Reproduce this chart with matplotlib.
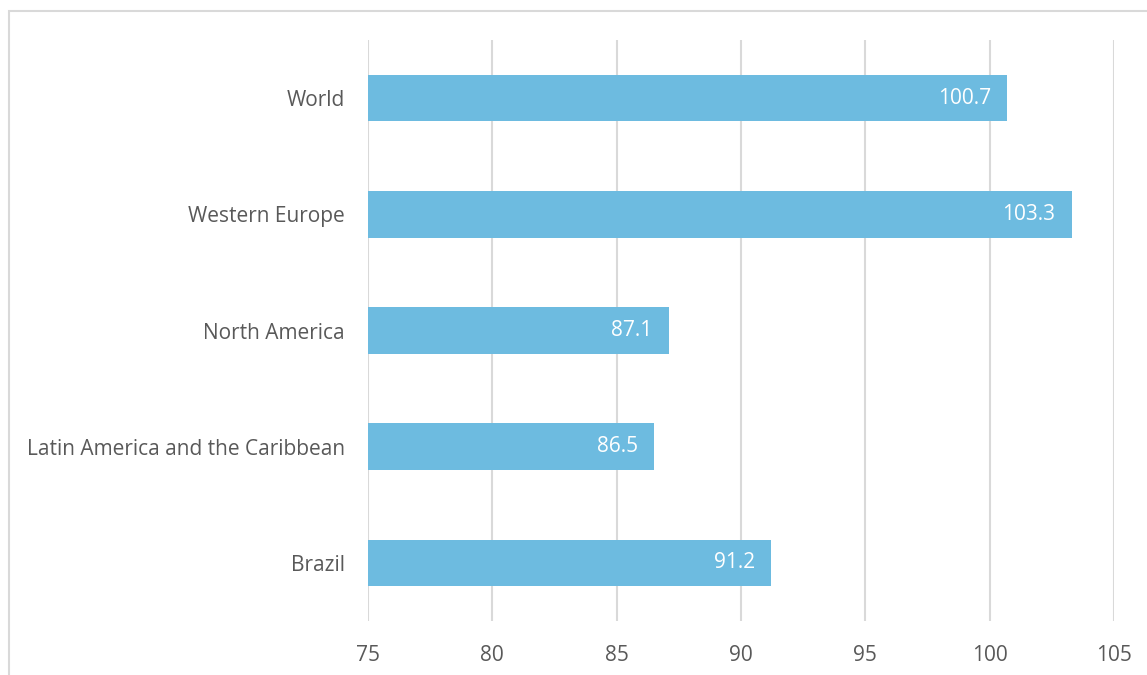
import matplotlib.pyplot as plt
from matplotlib.patches import Rectangle

categories = ["World", "Western Europe", "North America",
              "Latin America and the Caribbean", "Brazil"]
values = [100.7, 103.3, 87.1, 86.5, 91.2]
xticks = [75, 80, 85, 90, 95, 100, 105]

bar_color = "#6DBBE0"
text_color = "#595959"
grid_color = "#D9D9D9"

plt.rcParams['font.family'] = ['Open Sans', 'DejaVu Sans']

fig = plt.figure(figsize=(11.47, 6.75), dpi=100)
ax = fig.add_axes([0.3208, 0.08, 0.6504, 0.8607])

# outer chart border (runs off the right and bottom edges)
fig.patches.append(Rectangle((9 / 1147, -0.1), 1.2, 1 - 11 / 675 + 0.1,
                             transform=fig.transFigure, fill=False,
                             edgecolor="#D9D9D9", linewidth=1.5))

y = list(range(len(categories)))
ax.barh(y, [v - 75 for v in values], left=75, height=0.4, color=bar_color, zorder=2)

for yi, v in zip(y, values):
    ax.text(v - 0.65, yi, f"{v:.1f}", ha="right", va="center",
            color="white", fontsize=15, zorder=3)

ax.set_xlim(75, 105)
ax.set_ylim(len(categories) - 0.5, -0.5)
ax.set_xticks(xticks)
ax.set_xticklabels([str(t) for t in xticks])
ax.set_yticks(y)
ax.set_yticklabels(categories)

ax.xaxis.grid(True, color=grid_color, linewidth=1.5, zorder=0)
ax.set_axisbelow(True)
for s in ax.spines.values():
    s.set_visible(False)
ax.tick_params(axis="both", length=0, colors=text_color, labelsize=15)
ax.tick_params(axis="x", pad=17)
ax.tick_params(axis="y", pad=16.5)

fig.savefig("out.png", dpi=100)
